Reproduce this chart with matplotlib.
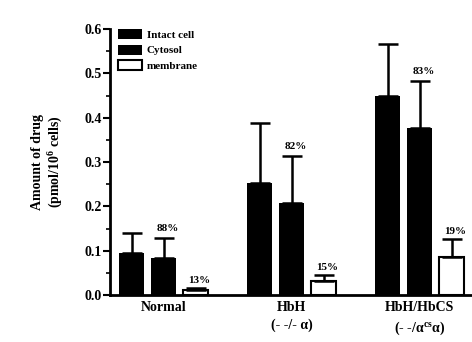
import numpy as np
import matplotlib.pyplot as plt
from matplotlib.ticker import MultipleLocator, FormatStrFormatter

groups = ["Normal", "HbH\n(- -/- \u03b1)", "HbH/HbCS\n(- -/\u03b1$^{cs}$\u03b1)"]
intact = [0.095, 0.253, 0.45]
intact_err = [0.045, 0.135, 0.117]
cytosol = [0.083, 0.208, 0.377]
cytosol_err = [0.045, 0.106, 0.106]
membrane = [0.012, 0.032, 0.086]
membrane_err = [0.004, 0.013, 0.04]
cyto_pct = ["88%", "82%", "83%"]
memb_pct = ["13%", "15%", "19%"]

plt.rcParams["font.family"] = ["Liberation Serif", "DejaVu Serif"]
plt.rcParams["font.weight"] = "bold"
plt.rcParams["mathtext.default"] = "regular"

fig = plt.figure(figsize=(4.72, 3.42), dpi=100)
ax = fig.add_axes([0.233, 0.137, 0.767, 0.778])

x = np.arange(len(groups))
w = 0.195
off = 0.25
ekw = dict(lw=1.8, capthick=1.8)

ax.bar(x - off, intact, w, color="black", label="Intact cell")
ax.errorbar(x - off, intact, yerr=[np.zeros(3), intact_err], fmt="none",
            ecolor="black", capsize=7, **ekw)
ax.bar(x, cytosol, w, color="black", label="Cytosol")
ax.errorbar(x, cytosol, yerr=[np.zeros(3), cytosol_err], fmt="none",
            ecolor="black", capsize=7, **ekw)
ax.bar(x + off, membrane, w, color="white", edgecolor="black", lw=1.5,
       label="membrane")
ax.errorbar(x + off, membrane, yerr=[np.zeros(3), membrane_err], fmt="none",
            ecolor="black", capsize=7, **ekw)

for i in range(3):
    ax.text(x[i] + 0.03, cytosol[i] + cytosol_err[i] + 0.012, cyto_pct[i],
            ha="center", va="bottom", fontsize=8, fontweight="bold")
    ax.text(x[i] + off + 0.03, membrane[i] + membrane_err[i] + 0.008, memb_pct[i],
            ha="center", va="bottom", fontsize=8, fontweight="bold")

ax.set_xlim(-0.42, 2.41)
ax.set_ylim(0, 0.6)
ax.yaxis.set_major_locator(MultipleLocator(0.1))
ax.yaxis.set_minor_locator(MultipleLocator(0.05))
ax.yaxis.set_major_formatter(FormatStrFormatter("%.1f"))
ax.set_xticks(x)
ax.set_xticklabels(groups, fontsize=10, fontweight="bold", linespacing=1.5)
ax.tick_params(axis="x", length=0, pad=4)
ax.tick_params(axis="y", which="major", length=5, width=1.5, pad=1,
               labelsize=10)
ax.tick_params(axis="y", which="minor", length=3, width=1.2)
ax.spines["top"].set_visible(False)
ax.spines["right"].set_visible(False)
ax.spines["left"].set_linewidth(2)
ax.spines["bottom"].set_linewidth(2)
ax.set_ylabel("Amount of drug\n(pmol/10$^6$ cells)", fontsize=10,
              fontweight="bold", labelpad=14)

ax.legend(loc="upper left", bbox_to_anchor=(0.0, 1.03), frameon=False,
          handlelength=2.2, handleheight=1.0, labelspacing=0.45,
          borderpad=0.2, handletextpad=0.4, prop={"weight": "bold", "size": 8})

fig.savefig("out.png", dpi=100)
